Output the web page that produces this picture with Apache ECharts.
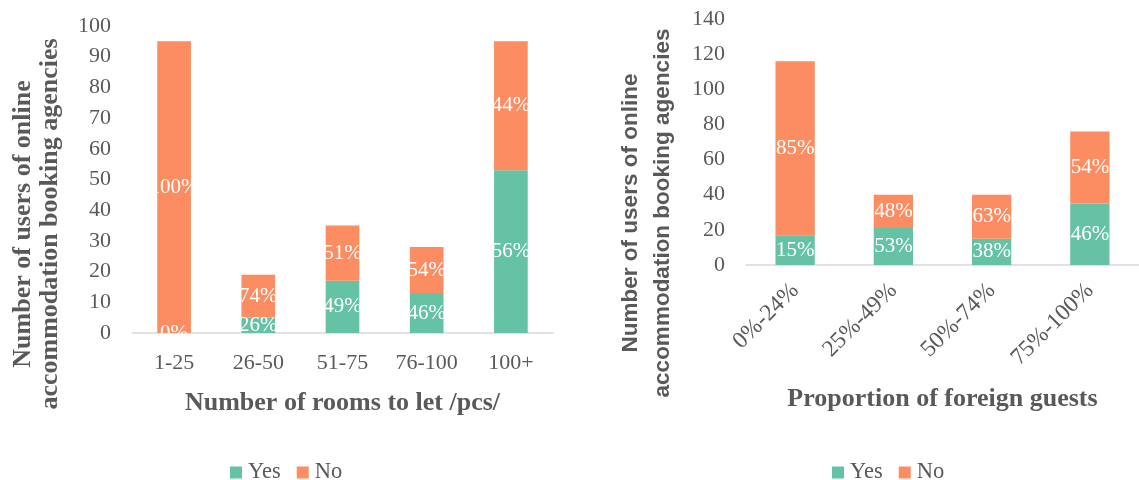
<!DOCTYPE html>
<html>
<head>
<meta charset="utf-8">
<script src="https://cdn.jsdelivr.net/npm/echarts@6/dist/echarts.min.js"></script>
<style>
  html, body { margin: 0; padding: 0; background: #fff; }
  #chart { width: 1139px; height: 480px; }
</style>
</head>
<body>
<div id="chart"></div>
<script>
// Users of online accommodation booking agencies, by size and by foreign-guest share
const roomsCategories = ['1-25', '26-50', '51-75', '76-100', '100+'];
const roomsYes = [0, 5, 17, 13, 53];
const roomsNo = [95, 14, 18, 15, 42];

const foreignCategories = ['0%-24%', '25%-49%', '50%-74%', '75%-100%'];
const foreignYes = [17, 21, 15, 35];
const foreignNo = [99, 19, 25, 41];

const GREEN = '#66C2A5';
const ORANGE = '#FC8D62';
const TEXT = '#595959';
const SERIF = '"Liberation Serif", "Times New Roman", serif';
const SANS = '"Liberation Sans", Arial, sans-serif';

// share of a segment within its stacked column, as a whole percent
function shareLabel(yes, no) {
  return function (p) {
    const total = yes[p.dataIndex] + no[p.dataIndex];
    return Math.round(p.value * 100 / total) + '%';
  };
}

function barSeries(name, data, color, axisIdx, yes, no) {
  return {
    name: name,
    type: 'bar',
    stack: 'total' + axisIdx,
    xAxisIndex: axisIdx,
    yAxisIndex: axisIdx,
    barWidth: '40%',
    data: data,
    itemStyle: { color: color },
    label: {
      show: true,
      position: 'inside',
      color: '#fff',
      fontFamily: SERIF,
      fontSize: 21,
      textBorderWidth: 0,
      formatter: shareLabel(yes, no)
    },
    emphasis: { disabled: true }
  };
}

function legendAt(left) {
  return {
    left: left,
    top: 456,
    icon: 'rect',
    itemWidth: 12,
    itemHeight: 12,
    itemGap: 16,
    textStyle: { color: TEXT, fontFamily: SERIF, fontSize: 22.5, padding: [0, 0, 0, 1] },
    data: ['Yes', 'No']
  };
}

const axisText = { color: TEXT, fontFamily: SERIF, fontSize: 22 };

const option = {
  animation: false,
  backgroundColor: '#fff',
  legend: [legendAt(225), legendAt(827)],
  grid: [
    { left: 132, right: 586, top: 26, bottom: 147 },
    { left: 746, right: -8, top: 19, bottom: 215 }
  ],
  xAxis: [
    {
      type: 'category', gridIndex: 0, data: roomsCategories,
      axisLine: { lineStyle: { color: '#D9D9D9', width: 1.5 } },
      axisTick: { show: false },
      axisLabel: Object.assign({ margin: 19 }, axisText),
      name: 'Number of rooms to let /pcs/',
      nameLocation: 'middle',
      nameGap: 57,
      nameTextStyle: { color: TEXT, fontFamily: SERIF, fontSize: 26, fontWeight: 'bold' }
    },
    {
      type: 'category', gridIndex: 1, data: foreignCategories,
      axisLine: { lineStyle: { color: '#D9D9D9', width: 1.5 } },
      axisTick: { show: false },
      axisLabel: { margin: 22, rotate: 45, color: TEXT, fontFamily: SERIF, fontSize: 23.5 },
      name: 'Proportion of foreign guests',
      nameLocation: 'middle',
      nameGap: 121,
      nameTextStyle: { color: TEXT, fontFamily: SERIF, fontSize: 26, fontWeight: 'bold' }
    }
  ],
  yAxis: [
    {
      type: 'value', gridIndex: 0, min: 0, max: 100, interval: 10,
      axisLine: { show: false }, axisTick: { show: false },
      splitLine: { show: false },
      axisLabel: Object.assign({ margin: 21 }, axisText)
    },
    {
      type: 'value', gridIndex: 1, min: 0, max: 140, interval: 20,
      axisLine: { show: false }, axisTick: { show: false },
      splitLine: { show: false },
      axisLabel: Object.assign({ margin: 21 }, axisText)
    }
  ],
  graphic: [
    {
      type: 'text', x: 37, y: 224, rotation: Math.PI / 2,
      style: {
        text: 'Number of users of online\naccommodation booking agencies',
        fill: TEXT, fontFamily: SERIF, fontSize: 26, fontWeight: 'bold',
        lineHeight: 27, align: 'center', verticalAlign: 'middle'
      }
    },
    {
      type: 'text', x: 647, y: 213, rotation: Math.PI / 2,
      style: {
        text: 'Number of users of online\naccommodation booking agencies',
        fill: TEXT, fontFamily: SANS, fontSize: 22.5, fontWeight: 'bold',
        lineHeight: 32, align: 'center', verticalAlign: 'middle'
      }
    }
  ],
  series: [
    barSeries('Yes', roomsYes, GREEN, 0, roomsYes, roomsNo),
    barSeries('No', roomsNo, ORANGE, 0, roomsYes, roomsNo),
    barSeries('Yes', foreignYes, GREEN, 1, foreignYes, foreignNo),
    barSeries('No', foreignNo, ORANGE, 1, foreignYes, foreignNo)
  ]
};

const chart = echarts.init(document.getElementById('chart'), null, { renderer: 'canvas' });
chart.setOption(option);
</script>
</body>
</html>
